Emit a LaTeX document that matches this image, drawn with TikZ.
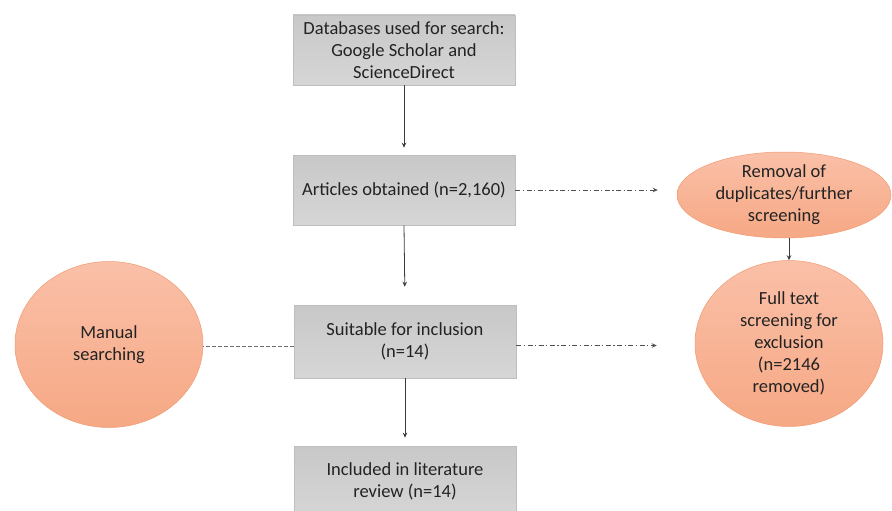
\documentclass[tikz,border=0pt]{standalone}
\usepackage{fontspec}
\setmainfont{Carlito}
\usetikzlibrary{shapes.geometric,arrows.meta}
\definecolor{txt}{RGB}{35,35,35}
\definecolor{boxedge}{RGB}{190,190,190}
\definecolor{salmonA}{RGB}{250,192,168}
\definecolor{salmonB}{RGB}{246,168,132}
\definecolor{salmonE}{RGB}{240,155,115}
\tikzset{
  graybox/.style={rectangle, draw=boxedge, line width=0.6pt, top color={rgb,255:red,200;green,200;blue,200}, bottom color={rgb,255:red,214;green,214;blue,214}, minimum width=222pt, align=center, text=txt, font=\fontsize{18.5}{22}\selectfont, inner sep=0pt},
  blob/.style={ellipse, draw=salmonE, line width=0.5pt, top color=salmonA, bottom color=salmonB, align=center, text=txt, font=\fontsize{18.5}{22}\selectfont, inner sep=0pt},
  solidarrow/.style={draw={rgb,255:red,60;green,60;blue,60}, line width=0.8pt, -{Stealth[length=5pt,width=4.5pt]}},
  dasharrow/.style={draw={rgb,255:red,80;green,80;blue,80}, line width=0.7pt, dash pattern=on 5pt off 2.5pt on 1.2pt off 2.5pt, -{Stealth[length=5pt,width=4.5pt]}},
  plaindash/.style={draw={rgb,255:red,110;green,110;blue,110}, line width=0.7pt, dash pattern=on 4pt off 2pt}
}
\begin{document}
\begin{tikzpicture}[x=1pt,y=-1pt]
\useasboundingbox (0,0) rectangle (892,511);
\node[graybox, minimum height=70pt] (b1) at (404,50) {Databases used for search:\\Google Scholar and\\ScienceDirect};
\node[graybox, minimum height=70pt] (b2) at (404,190) {Articles obtained (n=2,160)};
\node[graybox, minimum height=73pt] (b3) at (405,341.5) {Suitable for inclusion\\(n=14)};
\node[graybox, minimum height=70pt] (b4) at (405,481) {Included in literature\\review (n=14)};
\node[blob, minimum width=214pt, minimum height=86pt] (e1) at (784,195) {Removal of\\duplicates/further\\screening};
\node[blob, minimum width=188pt, minimum height=166pt] (e2) at (789,343.5) {Full text\\screening for\\exclusion\\(n=2146\\removed)};
\node[blob, minimum width=188pt, minimum height=166pt] (m) at (109,344.5) {Manual\\searching};
\draw[solidarrow, shorten >=7pt] (b1.south) -- (b2.north);
\draw[solidarrow, shorten >=18pt] (b2.south) -- (b3.north);
\draw[solidarrow, shorten >=8pt] (b3.south) -- (b4.north);
\draw[solidarrow] (e1.south -| e2.north) -- (e2.north);
\draw[dasharrow, shorten >=19pt] (b2.east) -- (b2.east -| e1.west);
\draw[dasharrow, shorten >=38pt] ([yshift=-4pt]b3.east) -- ([yshift=-4pt]b3.east -| e2.west);
\draw[plaindash] ([yshift=-4.5pt]b3.west) -- ([yshift=-4.5pt]b3.west -| m.east);
\end{tikzpicture}
\end{document}
